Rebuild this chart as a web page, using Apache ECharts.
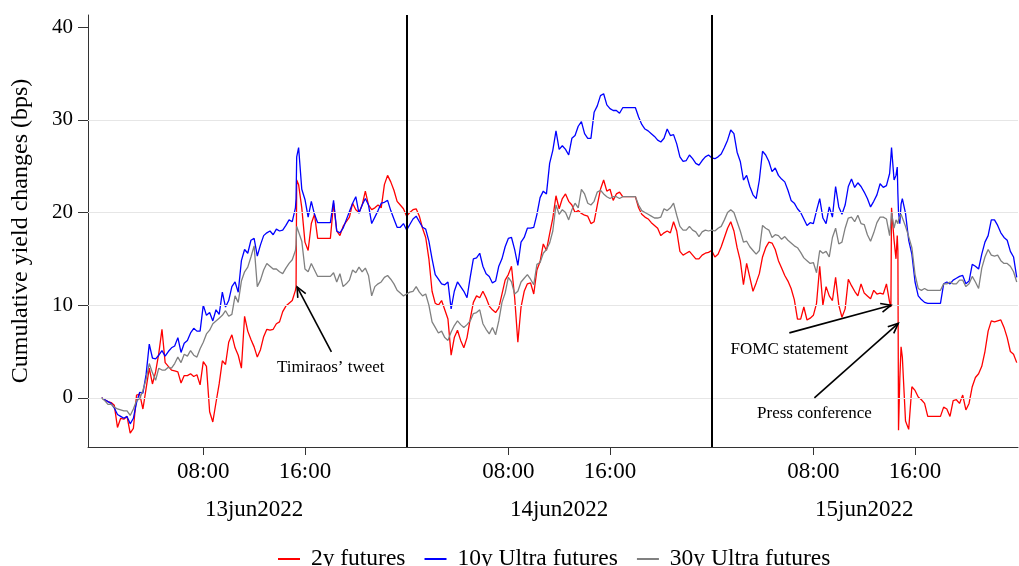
<!DOCTYPE html>
<html><head><meta charset="utf-8">
<script src="https://cdn.jsdelivr.net/npm/echarts@6/dist/echarts.min.js"></script>
<style>html,body{margin:0;padding:0;background:#fff}#c{width:1019px;height:566px}</style>
</head><body><div id="c"></div>
<script>
// hours since 13jun2022 00:00
const hours = [
0,0.25,0.5,0.75,1,1.25,1.5,1.75,2,2.25,2.5,2.75,3,3.25,3.5,3.75,
4,4.25,4.5,4.75,5,5.25,5.5,5.75,6,6.25,6.5,6.75,7,7.25,7.5,7.75,
8,8.25,8.5,8.75,9,9.25,9.5,9.75,10,10.25,10.5,10.75,11,11.25,11.5,11.75,
12,12.25,12.5,12.75,13,13.25,13.5,13.75,14,14.25,14.5,14.75,15,
15.25,15.3,15.35,
15.5,15.75,
16,16.25,16.5,16.75,17,17.25,17.5,17.75,
18,18.25,18.5,18.75,19,19.25,19.5,19.75,
20,20.25,20.5,20.75,21,21.25,21.5,21.75,
22,22.25,22.5,22.75,23,23.25,23.5,23.75,
24,24.25,24.5,24.75,25,25.25,25.5,25.75,
26,26.25,26.5,26.75,27,27.25,27.5,27.75,
28,28.25,28.5,28.75,29,29.25,29.5,29.75,
30,30.25,30.5,30.75,31,31.25,31.5,31.75,
32,32.25,32.5,32.75,33,33.25,33.5,33.75,
34,34.25,34.5,34.75,35,35.25,35.5,35.75,
36,36.25,36.5,36.75,37,37.25,37.5,37.75,
38,38.25,38.5,38.75,39,39.25,39.5,39.75,
40,40.25,40.5,40.75,41,41.25,41.5,41.75,
42,42.25,42.5,42.75,43,43.25,43.5,43.75,
44,44.25,44.5,44.75,45,45.25,45.5,45.75,
46,46.25,46.5,46.75,47,47.25,47.5,47.75,
48,48.25,48.5,48.75,49,49.25,49.5,49.75,
50,50.25,50.5,50.75,51,51.25,51.5,51.75,
52,52.25,52.5,52.75,53,53.25,53.5,53.75,
54,54.25,54.5,54.75,55,55.25,55.5,55.75,
56,56.25,56.5,56.75,57,57.25,57.5,57.75,
58,58.25,58.5,58.75,59,59.25,59.5,59.75,
60,60.25,60.5,60.75,61,61.25,61.5,61.75,
62,62.1,62.15,62.35,62.5,62.6,62.65,62.7,62.8,62.9,
63,63.25,63.5,63.75,64,64.25,64.5,64.75,
65,65.25,65.5,65.75,66,66.25,66.5,66.75,
67,67.25,67.5,67.75,68,68.25,68.5,68.75,
69,69.25,69.5,69.75,70,70.25,70.5,70.75,
71,71.25,71.5,71.75,72
];

// 2y futures
const y2 = [
0,-0.2,-0.4,-0.5,-0.8,-3.2,-2.2,-2.3,-2.0,-3.8,
-3.3,0.3,0.4,-1.2,1.0,3.2,1.5,2.8,4.8,7.4,
3.8,3.4,3.0,2.9,2.8,1.6,2.4,2.4,2.6,2.3,
2.5,1.4,3.9,3.4,-1.5,-2.6,-0.5,1.5,4.0,3.6,
6.0,6.8,5.4,4.6,3.2,8.8,7.2,6.3,5.5,4.4,
5.2,6.6,7.4,7.3,7.4,8.0,8.2,9.3,9.9,10.2,
10.5,
11.6,12.0,23.5,
23.0,20.5,16.8,15.9,18.8,19.8,17.2,17.2,17.2,17.2,17.2,
21.0,18.0,17.5,18.5,19.0,19.5,21.0,20.3,20.0,20.8,
22.3,20.8,20.3,20.5,20.8,20.5,23.0,24.0,23.3,22.4,
21.2,20.8,20.4,19.6,20.0,20.3,20.4,19.6,18.3,17.3,
15.0,11.5,10.2,10.0,10.5,9.5,8.5,4.6,6.5,7.3,
6.2,5.4,6.5,8.5,10.3,11.0,10.8,11.5,10.8,9.9,
9.5,9.2,9.7,11.2,12.7,13.3,14.2,10.8,6.0,9.8,
11.5,12.3,12.4,11.2,13.8,14.7,16.6,15.9,17.7,19.4,
21.8,
20.4,21.5,22.0,21.2,20.8,20.0,20.2,19.9,19.7,19.6,
18.8,19.0,20.8,22.5,23.5,22.3,22.5,21.3,22.0,22.2,
21.7,21.7,21.7,21.7,21.7,20.5,19.8,19.5,19.3,18.9,
18.6,18.3,17.5,17.8,18.0,17.8,19.0,18.0,15.8,15.4,
15.6,15.8,15.4,15.0,15.0,15.4,15.6,15.7,15.9,15.2,
15.5,16.3,17.3,18.3,19.0,18.0,16.2,14.8,12.2,14.5,
13.0,11.5,12.4,13.4,15.2,16.2,16.8,16.7,16.0,14.8,
14.0,13.2,
12.6,11.8,10.6,8.5,8.5,9.8,8.4,8.6,8.9,10.2,
14.2,10.0,12.0,11.0,10.5,13.0,10.0,8.7,9.6,12.8,
12.1,11.5,11.0,12.3,11.3,11.0,10.7,11.6,11.2,11.3,
11.2,12.3,
10.3,9.8,20.5,17.0,15.0,17.5,15.9,-3.5,2.0,5.5,
4.4,-2.5,-3.4,1.2,0.8,0.1,-0.2,-0.6,-2.0,-2.0,
-2.0,-2.0,-2.0,-1.0,-1.2,-2.0,-0.3,-0.2,-0.6,0.3,
-1.3,-0.6,1.2,2.2,2.6,3.4,5.0,7.2,8.3,8.2,
8.3,8.4,7.6,6.5,5.0,4.7,3.8
];

// 10y Ultra futures
const y10 = [
0,-0.2,-0.4,-0.6,-1.1,-1.8,-2.0,-2.2,-2.0,-2.8,
-2.2,-0.5,0.6,0.5,2.5,5.8,4.3,4.2,4.6,5.1,
4.5,5.0,5.4,5.6,6.5,4.9,5.9,6.2,7.0,7.5,
7.2,7.2,10.0,8.9,9.2,8.3,9.5,9.0,11.4,9.8,
10.5,12.0,12.5,11.4,14.8,16.0,15.6,17.0,17.2,15.3,
16.5,17.5,17.8,18.0,17.6,18.2,18.0,18.1,18.6,19.2,
19.0,
20.5,21.5,26.0,
27.0,22.5,21.4,19.5,21.2,19.8,18.9,18.9,18.9,18.9,18.9,
21.3,18.0,17.8,18.3,19.2,20.1,21.0,21.7,19.9,20.8,
21.5,20.8,18.8,19.5,20.2,21.0,21.1,21.3,20.2,19.3,
18.4,18.4,18.8,18.1,18.7,19.3,19.6,19.0,18.4,18.2,
16.9,15.0,13.3,12.8,12.3,12.2,12.5,9.6,11.5,12.5,
12.0,11.5,10.8,13.0,15.0,15.1,15.6,14.2,13.4,13.1,
12.4,12.6,14.2,15.0,16.3,17.2,17.3,16.0,14.3,16.8,
17.3,18.3,18.3,18.4,19.8,21.6,22.3,22.0,25.3,26.7,
28.8,
26.8,27.2,26.8,26.2,28.0,28.3,29.3,29.8,28.5,28.0,
28.0,30.8,31.5,32.6,32.8,31.6,31.2,31.0,31.0,30.7,
31.3,31.3,31.3,31.3,31.3,30.3,29.5,29.0,28.8,28.5,
28.2,27.8,27.6,28.0,29.0,28.3,28.4,27.4,26.0,25.5,
25.6,26.2,25.8,25.3,25.1,25.6,26.0,26.2,25.9,25.8,
26.0,26.3,27.0,27.8,28.9,28.5,26.5,25.5,23.5,24.0,
22.8,21.9,21.5,23.5,26.6,26.2,25.5,24.4,24.8,24.0,
23.6,23.3,
22.4,21.3,21.0,20.4,20.0,19.3,18.6,18.9,18.8,20.2,
21.5,19.4,18.8,20.6,19.5,22.8,20.6,19.8,20.8,22.8,
23.6,22.7,23.2,22.8,22.2,21.5,20.6,21.2,21.9,23.1,
22.7,22.9,
24.2,26.0,27.0,23.5,24.0,24.9,22.0,20.0,18.8,20.9,
21.5,19.9,17.0,15.5,12.5,11.0,10.6,10.3,10.2,10.2,
10.2,10.2,10.2,12.3,12.5,12.3,12.7,12.9,13.1,13.2,
12.3,12.6,14.4,14.2,13.9,15.5,16.8,17.5,19.2,19.2,
18.6,17.8,17.3,17.0,15.8,15.2,13.0
];

// 30y Ultra futures
const y30 = [
0,-0.3,-0.7,-0.7,-1.0,-1.2,-1.3,-1.4,-1.4,-1.9,
-1.2,-0.3,-0.1,0.8,2.0,3.7,2.7,1.9,3.2,3.0,
3.0,3.3,3.2,3.7,4.4,3.8,4.7,4.5,5.1,4.6,
4.4,5.3,6.0,6.9,7.3,8.0,8.3,8.6,8.9,9.4,
8.8,9.0,11.0,10.3,12.6,13.6,14.1,15.2,16.4,12.0,
12.7,13.8,14.5,14.2,13.9,13.9,13.6,13.4,14.0,14.5,
14.9,
15.9,16.5,18.5,
18.6,16.9,13.9,13.6,14.5,13.8,13.1,13.1,13.1,13.1,13.1,
13.5,12.5,13.4,12.0,12.3,12.7,13.8,13.5,14.1,13.6,
14.0,13.2,11.0,12.0,12.3,12.5,13.0,13.2,12.8,12.3,
11.6,11.3,11.0,11.2,11.4,11.5,12.0,11.4,11.0,11.2,
10.0,8.2,7.6,7.0,7.2,6.5,6.2,7.1,7.8,8.3,
7.9,7.6,7.9,8.3,9.1,9.2,9.5,8.0,7.4,6.9,
7.6,6.8,8.3,10.3,11.3,13.0,12.5,11.2,11.5,12.5,
12.9,13.3,12.8,12.2,14.4,14.6,15.6,16.0,16.7,18.0,
20.8,
19.8,20.3,20.0,19.2,20.3,21.0,20.5,22.5,22.0,21.0,
20.8,21.2,22.2,22.4,22.0,21.7,21.5,21.7,21.7,21.5,
21.7,21.7,21.7,21.7,21.7,20.8,20.2,20.0,19.8,19.6,
19.4,19.4,19.5,20.4,20.2,20.5,21.0,19.7,18.5,18.1,
18.1,18.5,18.1,17.9,17.4,17.9,18.1,18.0,18.1,18.0,
18.3,18.5,19.2,20.0,20.3,20.0,19.0,18.0,16.8,16.9,
16.3,15.9,15.5,15.9,18.6,18.3,18.1,17.3,17.6,17.5,
17.1,17.4,
17.0,16.7,16.4,16.2,15.7,15.1,14.8,14.5,14.6,13.5,
15.9,15.6,15.8,15.2,17.3,18.3,16.6,16.8,18.3,19.4,
19.5,19.0,19.7,18.8,18.7,17.6,16.9,17.8,18.9,19.5,
19.5,19.3,
17.5,19.0,20.0,18.3,19.2,19.0,18.8,19.2,19.5,19.8,
20.0,18.5,17.4,16.2,13.3,11.8,11.6,11.8,11.6,11.6,
11.6,11.6,11.6,12.3,12.3,12.5,12.3,12.3,12.7,12.7,
12.0,12.3,13.1,12.5,11.8,14.0,15.2,16.0,15.4,15.3,
15.4,14.8,14.5,14.5,14.2,13.6,12.5
];

const seriesNames = ['2y futures', '10y Ultra futures', '30y Ultra futures'];
const timeTicks = [8, 16, 32, 40, 56, 64];
const timeTickLabels = ['08:00', '16:00', '08:00', '16:00', '08:00', '16:00'];
const dayCenters = [12, 36, 60];
const dayLabels = ['13jun2022', '14jun2022', '15jun2022'];
const yTicks = [0, 10, 20, 30, 40];
const gridValues = [0, 10, 20, 30];
const dayBreaks = [24, 48];
const yTitle = 'Cumulative yield changes (bps)';
const notes = [
  { text: 'Timiraos\u2019 tweet', at: [18.03, 3.3], from: [18.08, 4.96], to: [15.38, 11.97] },
  { text: 'FOMC statement', at: [54.11, 5.25], from: [54.11, 7.01], to: [62.11, 10.0] },
  { text: 'Press conference', at: [56.08, -1.65], from: [56.08, 0.0], to: [62.68, 8.03] }
];

const FONT = 'Liberation Serif';
const X_MIN = -1.07, X_MAX = 72.1, Y_MIN = -5.3, Y_MAX = 41.3;
const colors = ['#ff0000', '#0000ff', '#808080'];
const values = [y2, y10, y30];

const chart = echarts.init(document.getElementById('c'), null, { renderer: 'canvas' });

const lineSeries = seriesNames.map((name, si) => ({
  name: name,
  type: 'line',
  data: hours.map((h, i) => [h, values[si][i]]),
  showSymbol: false,
  symbol: 'none',
  silent: true,
  animation: false,
  z: 3 + si,
  lineStyle: { color: colors[si], width: 1.3 },
  itemStyle: { color: colors[si] },
  emphasis: { disabled: true }
}));

const option = {
  animation: false,
  backgroundColor: '#ffffff',
  grid: { left: 88, right: 1, top: 15, bottom: 119, containLabel: false },
  legend: {
    data: seriesNames,
    top: 547,
    left: 278,
    padding: 0,
    icon: 'rect',
    itemWidth: 22,
    itemHeight: 2,
    itemGap: 19,
    formatter: n => ' ' + n,
    textStyle: { fontFamily: FONT, fontSize: 23.5, color: '#000' }
  },
  xAxis: [
    {
      type: 'value', min: X_MIN, max: X_MAX,
      axisLine: { show: true, onZero: false, lineStyle: { color: '#333', width: 1 } },
      axisTick: { show: true, customValues: timeTicks, length: 8, lineStyle: { color: '#333' } },
      axisLabel: {
        customValues: timeTicks,
        formatter: v => timeTickLabels[timeTicks.indexOf(v)] || '',
        fontFamily: FONT, fontSize: 23, color: '#000', margin: 13
      },
      splitLine: { show: false }
    },
    {
      type: 'value', min: X_MIN, max: X_MAX, position: 'bottom',
      axisLine: { show: false }, axisTick: { show: false },
      axisLabel: {
        customValues: dayCenters,
        formatter: v => dayLabels[dayCenters.indexOf(v)] || '',
        fontFamily: FONT, fontSize: 23, color: '#000', margin: 51
      },
      splitLine: { show: false }
    }
  ],
  yAxis: {
    type: 'value', min: Y_MIN, max: Y_MAX,
    name: yTitle, nameLocation: 'middle', nameGap: 55, nameRotate: 90,
    nameTextStyle: { fontFamily: FONT, fontSize: 24, color: '#000' },
    axisLine: { show: true, onZero: false, lineStyle: { color: '#333', width: 1 } },
    axisTick: { show: true, customValues: yTicks, length: 10, lineStyle: { color: '#333' } },
    axisLabel: { customValues: yTicks, fontFamily: FONT, fontSize: 21, color: '#000', margin: 15 },
    splitLine: { show: false }
  },
  series: [
    {
      name: 'grid', type: 'line', data: [], silent: true, z: 1,
      markLine: {
        silent: true, symbol: ['none', 'none'], animation: false,
        label: { show: false },
        lineStyle: { color: '#e6e6e6', width: 1, type: 'solid' },
        emphasis: { disabled: true },
        data: gridValues.map(v => ({ yAxis: v }))
      }
    },
    ...lineSeries,
    {
      name: 'breaks', type: 'line', data: [], silent: true, z: 10,
      markLine: {
        silent: true, symbol: ['none', 'none'], animation: false,
        label: { show: false },
        lineStyle: { color: '#000', width: 2, type: 'solid' },
        emphasis: { disabled: true },
        data: dayBreaks.map(v => ({ xAxis: v }))
      }
    }
  ]
};

chart.setOption(option);

const finder = { xAxisIndex: 0, yAxisIndex: 0 };
const g = [];
notes.forEach(n => {
  const p = chart.convertToPixel(finder, n.at);
  const a = chart.convertToPixel(finder, n.from);
  const b = chart.convertToPixel(finder, n.to);
  g.push({ type: 'text', x: p[0], y: p[1], z: 20,
    style: { text: n.text, fontFamily: FONT, fontSize: 17, fill: '#000', align: 'center', verticalAlign: 'middle' } });
  g.push({ type: 'line', z: 20, shape: { x1: a[0], y1: a[1], x2: b[0], y2: b[1] },
    style: { stroke: '#000', lineWidth: 1.6 } });
  const ang = Math.atan2(b[1] - a[1], b[0] - a[0]);
  const L = 11, w = 0.42;
  g.push({ type: 'polyline', z: 20,
    shape: { points: [
      [b[0] - L * Math.cos(ang - w), b[1] - L * Math.sin(ang - w)],
      [b[0], b[1]],
      [b[0] - L * Math.cos(ang + w), b[1] - L * Math.sin(ang + w)]
    ] },
    style: { stroke: '#000', lineWidth: 1.6, fill: null } });
});
if (!(y2.length === hours.length && y10.length === hours.length && y30.length === hours.length)) {
  g.push({ type: 'text', x: 400, y: 40, style: { text: 'LEN ' + hours.length + ' ' + y2.length + ' ' + y10.length + ' ' + y30.length, fontSize: 20, fill: '#f0f' } });
}
chart.setOption({ graphic: g });
</script>
</body></html>
